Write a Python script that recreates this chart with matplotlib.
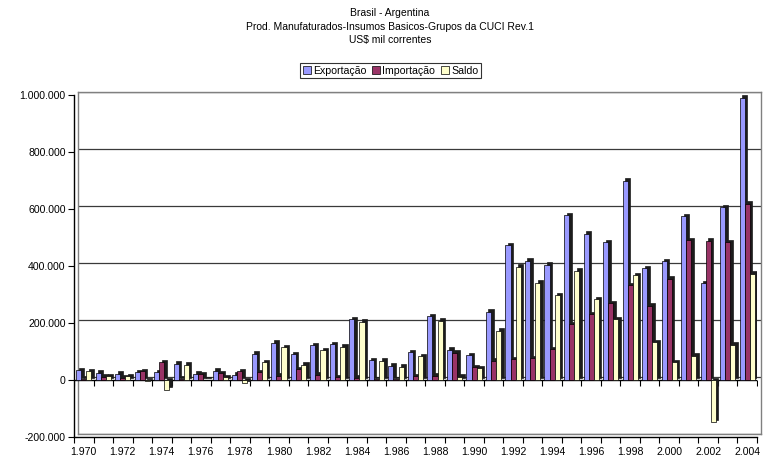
import numpy as np
import matplotlib
matplotlib.use('Agg')
import matplotlib.pyplot as plt
import matplotlib.transforms as mtransforms
from matplotlib.ticker import FuncFormatter, FixedLocator

plt.rcParams['font.family'] = ['Liberation Sans', 'DejaVu Sans']

# data (US$ mil correntes)
years = [1970, 1971, 1972, 1973, 1974, 1975, 1976, 1977, 1978, 1979,
         1980, 1981, 1982, 1983, 1984, 1985, 1986, 1987, 1988, 1989,
         1990, 1991, 1992, 1993, 1994, 1995, 1996, 1997, 1998, 1999,
         2000, 2001, 2002, 2003, 2004]
exportacao = [35000, 25000, 22000, 27000, 28000, 57000, 22000, 32000, 19000, 92000,
              130000, 91000, 122000, 126000, 213000, 69000, 50000, 97000, 223000, 107000,
              86000, 240000, 472000, 418000, 405000, 578000, 514000, 484000, 700000, 392000,
              417000, 575000, 340000, 607000, 990000]
importacao = [5000, 12000, 8000, 31000, 62000, 4000, 21000, 23000, 30000, 28000,
              15000, 38000, 18000, 9000, 8000, 2000, 3000, 14000, 15000, 95000,
              44000, 68000, 73000, 76000, 108000, 195000, 230000, 270000, 333000, 260000,
              355000, 490000, 488000, 484000, 618000]
saldo = [30000, 13000, 14000, -4000, -34000, 53000, 1000, 9000, -11000, 62000,
         115000, 53000, 104000, 117000, 205000, 67000, 47000, 83000, 208000, 12000,
         42000, 172000, 398000, 342000, 297000, 383000, 284000, 214000, 367000, 132000,
         62000, 85000, -148000, 123000, 372000]

series = [('Exportação', exportacao, '#9999FF'),
          ('Importação', importacao, '#993366'),
          ('Saldo', saldo, '#FFFFCC')]

titles = ['Brasil - Argentina',
          'Prod. Manufaturados-Insumos Basicos-Grupos da CUCI Rev.1',
          'US$ mil correntes']

W, H = 773, 463
fig = plt.figure(figsize=(W / 100, H / 100), dpi=100)

# front plot box in pixels
left, right, top, bottom = 74, 757, 95, 437
dx, dy = 4, 3  # depth of back wall

pos = [left / W, 1 - bottom / H, (right - left) / W, (bottom - top) / H]
wall = fig.add_axes([pos[0] + dx / W, pos[1] + dy / H, pos[2], pos[3]])
ax = fig.add_axes(pos)

ylo, yhi = -200000, 1000000
x = np.arange(len(years))
for a in (wall, ax):
    a.set_xlim(-0.5, len(years) - 0.5)
    a.set_ylim(ylo, yhi)

# back wall with gridlines
wall.set_xticks([])
wall.set_yticks(np.arange(ylo, yhi + 1, 200000))
wall.tick_params(axis='y', length=0, labelleft=False)
wall.grid(axis='y', color='#3a3a3a', linewidth=0.9)
for s in wall.spines.values():
    s.set_color('#808080')
    s.set_linewidth(1.0)

# front axes
ax.patch.set_alpha(0)
ax.spines['top'].set_visible(False)
ax.spines['right'].set_visible(False)
ax.spines['left'].set_linewidth(1.0)
ax.spines['bottom'].set_linewidth(1.0)

ax.set_yticks(np.arange(ylo, yhi + 1, 200000))
ax.yaxis.set_major_formatter(FuncFormatter(lambda v, p: f'{int(v):,}'.replace(',', '.')))
ax.tick_params(axis='y', direction='out', length=4, width=0.8, pad=2, labelsize=7.6)

bounds = np.arange(len(years) + 1) - 0.5
ax.xaxis.set_major_locator(FixedLocator(bounds))
ax.xaxis.set_minor_locator(FixedLocator(x[::2]))
ax.set_xticklabels([])
ax.set_xticklabels([f'{y // 1000}.{y % 1000:03d}' for y in years[::2]], minor=True)
ax.tick_params(axis='x', which='major', direction='out', length=4, width=0.8)
ax.tick_params(axis='x', which='minor', length=4, width=0, pad=3.5, labelsize=7.6)

# bars with a dark offset copy for the 3D look
bw = 0.26
shade = mtransforms.offset_copy(ax.transData, fig=fig, x=2.5, y=2.5, units='dots')
for i, (name, vals, col) in enumerate(series):
    xs = x + (i - 1) * bw
    ax.bar(xs, vals, bw, color='#1c1c1c', edgecolor='#1c1c1c', linewidth=0.5,
           transform=shade, zorder=3 + i)
    ax.bar(xs, vals, bw, color=col, edgecolor='#000000', linewidth=0.5,
           label=name, zorder=3 + i)

# category axis at zero with its ticks
ax.axhline(0, color='black', linewidth=1.0, zorder=2)
ax.plot(bounds, np.zeros(len(bounds)), linestyle='none', marker=3,
        markersize=4, markeredgewidth=0.8, color='black', zorder=2)

# titles and legend
for k, t in enumerate(titles):
    fig.text(390 / W, 1 - (13.5 + 13.3 * k) / H, t, ha='center', va='center', fontsize=7.5)

handles, labels = ax.get_legend_handles_labels()
leg = fig.legend(handles, labels, loc='center', bbox_to_anchor=(390.5 / W, 1 - 70.5 / H),
                 ncol=3, fontsize=7.6, frameon=True, fancybox=False, shadow=False,
                 handlelength=0.75, handleheight=0.75, handletextpad=0.25,
                 columnspacing=0.5, borderpad=0.25, borderaxespad=0)
leg.get_frame().set_edgecolor('black')
leg.get_frame().set_linewidth(0.8)

fig.savefig('out.png', dpi=100)
